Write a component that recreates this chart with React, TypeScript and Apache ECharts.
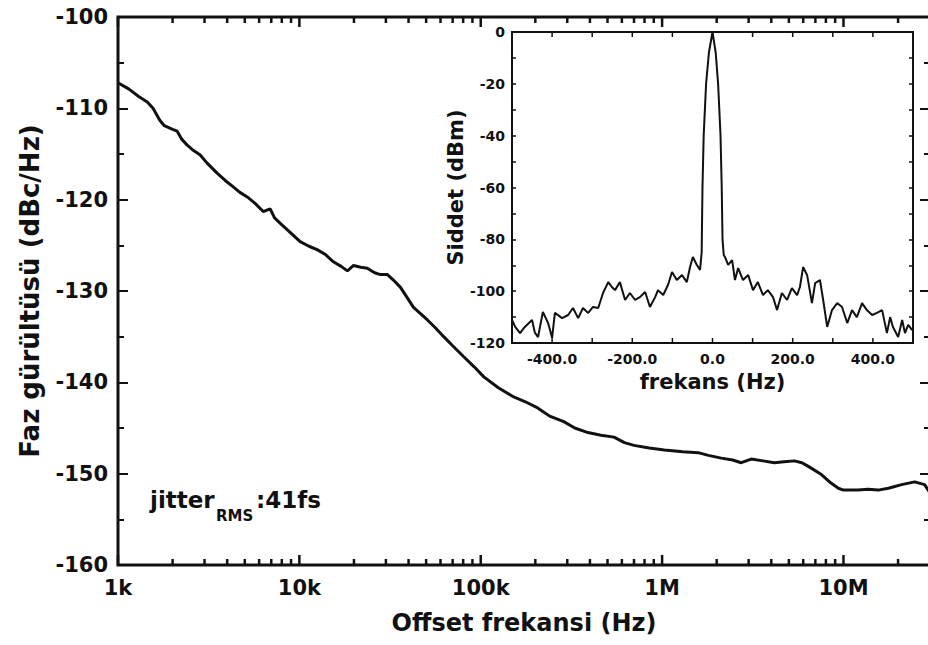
import React, { useEffect, useRef } from 'react';
import * as echarts from 'echarts';

// ---- main chart: phase noise vs offset frequency ----
const decadeValues = [1e3, 1e4, 1e5, 1e6, 1e7];
const decadeLabels = ['1k', '10k', '100k', '1M', '10M'];
const minorMultipliers = [2, 3, 4, 5, 6, 7, 8, 9];
const xMin = 1000;
const xMax = 3e7;

const mainFreq = [
  1000, 1150, 1300, 1450, 1560, 1700, 1800, 2000, 2120, 2250, 2400, 2600, 2840, 3100, 3520, 3900,
  4320, 4700, 5160, 5700, 6320, 6900, 7300, 7850, 8800, 10100, 11300, 12600, 13900, 15400, 17000,
  18400, 19900, 21800, 23700, 26000, 28000, 30600, 33000, 36100, 42600, 51000, 56000, 62500, 70000,
  80600, 92000, 104000, 125000, 152000, 175000, 206000, 240000, 287000, 330000, 390000, 460000,
  543000, 620000, 700000, 850000, 1030000, 1300000, 1580000, 1800000, 2120000, 2450000, 2730000,
  3100000, 3600000, 4160000, 4700000, 5360000, 5900000, 6400000, 7560000, 8500000, 9370000,
  10000000, 12000000, 13700000, 15500000, 17700000, 20900000, 24700000, 28000000, 30000000,
];
const mainLevel = [
  -107.2, -107.9, -108.7, -109.3, -110.0, -111.3, -111.9, -112.3, -112.5, -113.4, -114.0, -114.6,
  -115.1, -116.0, -117.1, -117.9, -118.6, -119.2, -119.7, -120.4, -121.3, -121.0, -122.0, -122.6,
  -123.5, -124.6, -125.1, -125.5, -126.0, -126.8, -127.3, -127.8, -127.2, -127.4, -127.5, -128.0,
  -128.2, -128.2, -128.8, -129.6, -131.8, -133.2, -134.0, -135.0, -136.0, -137.2, -138.3, -139.4,
  -140.6, -141.6, -142.1, -142.8, -143.7, -144.3, -145.0, -145.5, -145.8, -146.0, -146.6, -146.9,
  -147.2, -147.4, -147.6, -147.7, -148.0, -148.3, -148.5, -148.8, -148.4, -148.6, -148.8, -148.7,
  -148.6, -148.8, -149.2, -150.1, -151.0, -151.6, -151.8, -151.8, -151.7, -151.8, -151.6, -151.2,
  -150.9, -151.2, -152.1,
];

// ---- inset: spectrum around the carrier ----
const insetTickValues = [-400, -300, -200, -100, 0, 100, 200, 300, 400];
const insetFreq = [
  -500, -492, -480, -468, -450, -443, -435, -423, -410, -400, -393, -375, -360, -348, -335, -323,
  -310, -298, -285, -273, -260, -251, -243, -231, -218, -206, -193, -181, -168, -156, -143, -136,
  -123, -111, -101, -89, -76, -64, -56, -49, -39, -31, -27, -25, -22, -16, -9, 0, 8, 14, 20, 23, 25,
  28, 31, 39, 49, 56, 64, 76, 89, 101, 113, 126, 138, 151, 161, 173, 186, 198, 211, 218, 226, 236,
  248, 256, 268, 276, 286, 298, 311, 323, 336, 348, 360, 373, 385, 398, 410, 423, 435, 443, 450, 463,
  473, 480, 488, 498,
];
const insetLevel = [
  -111.1, -113.8, -116.2, -113.8, -111.1, -116.0, -117.7, -108.0, -112.3, -118.0, -108.4, -110.4,
  -109.2, -106.5, -110.4, -106.5, -108.4, -106.1, -106.5, -100.7, -96.5, -98.4, -99.6, -96.5,
  -103.4, -100.7, -103.4, -102.3, -100.3, -106.1, -102.3, -99.6, -101.5, -97.6, -92.6, -95.7,
  -93.8, -96.5, -90.7, -86.8, -89.9, -91.8, -85, -60, -40, -20, -8, 0, -8, -20, -40, -60, -80, -86,
  -86.8, -89.9, -88.0, -95.7, -91.1, -95.7, -93.8, -99.6, -96.5, -101.5, -99.6, -102.3, -107.3,
  -100.7, -103.4, -98.8, -101.5, -98.4, -90.7, -93.8, -104.6, -96.9, -95.7, -103.4, -113.8, -107.3,
  -104.6, -106.1, -112.3, -107.3, -110.0, -104.6, -107.3, -109.2, -108.4, -107.3, -116.2, -110.0,
  -113.8, -117.7, -111.1, -116.2, -113.0, -115.0,
];

const FONT = 'DejaVu Sans';
const INK = '#111';
const MAIN_Y_MIN = -160;
const MAIN_Y_MAX = -100;
const INSET_Y_MIN = -120;
const INSET_Y_MAX = 0;

export default function App() {
  const ref = useRef<HTMLDivElement>(null);

  useEffect(() => {
    const chart = echarts.init(ref.current!, null, { renderer: 'svg' });

    // tick positions on the logarithmic x axis: [value, y, isMajor]
    const xTicks: number[][] = [];
    decadeValues.forEach((d) => {
      xTicks.push([d, MAIN_Y_MIN, 1]);
      minorMultipliers.forEach((m) => {
        const v = d * m;
        if (v < xMax) xTicks.push([v, MAIN_Y_MIN, 0]);
      });
    });
    const insetTicks = insetTickValues.map((v) => [v, INSET_Y_MIN, 1]);

    const decadeFormatter = (v: number) => {
      const i = decadeValues.findIndex((d) => Math.abs(Math.log10(v) - Math.log10(d)) < 0.01);
      return i >= 0 ? decadeLabels[i] : '';
    };

    const tickRenderer = (yMin: number, yMax: number, majorLen: number, minorLen: number, w: number) =>
      (params: any, api: any) => {
        const v = api.value(0);
        const major = api.value(2) !== 0;
        const len = major ? majorLen : minorLen;
        const b = api.coord([v, yMin]);
        const t = api.coord([v, yMax]);
        return {
          type: 'group',
          children: [
            { type: 'rect', shape: { x: b[0] - w / 2, y: b[1] - len, width: w, height: len }, style: { fill: INK } },
            { type: 'rect', shape: { x: t[0] - w / 2, y: t[1], width: w, height: len }, style: { fill: INK } },
          ],
        };
      };

    const noLine = { show: false, onZero: false };

    const option: any = {
      animation: false,
      backgroundColor: '#fff',
      grid: [
        {
          left: 118, top: 17, width: 812, height: 548, outerBoundsMode: 'none',
          show: true, borderWidth: 3, borderColor: INK, backgroundColor: 'transparent',
        },
        {
          left: 512, top: 32, width: 401, height: 311, outerBoundsMode: 'none',
          show: true, borderWidth: 2, borderColor: INK, backgroundColor: 'transparent',
        },
      ],
      xAxis: [
        {
          type: 'log', logBase: 10, gridIndex: 0, min: xMin, max: xMax, position: 'bottom',
          axisLine: noLine,
          axisTick: { show: false },
          axisLabel: {
            formatter: decadeFormatter, margin: 12, fontSize: 21, fontWeight: 'bold',
            fontFamily: FONT, color: INK, showMaxLabel: false,
          },
          splitLine: { show: false },
          name: 'Offset frekansi (Hz)', nameLocation: 'middle', nameGap: 46,
          nameTextStyle: { fontSize: 24, fontWeight: 'bold', fontFamily: FONT, color: INK },
        },
        {
          type: 'value', gridIndex: 1, min: -500, max: 500, interval: 100, position: 'bottom',
          axisLine: noLine,
          axisTick: { show: false },
          axisLabel: {
            interval: 0, margin: 9, fontSize: 14, fontWeight: 'bold', fontFamily: FONT, color: INK,
            formatter: (v: number) => (v % 200 === 0 && Math.abs(v) < 500 ? v.toFixed(1) : ''),
          },
          splitLine: { show: false },
          name: 'frekans (Hz)', nameLocation: 'middle', nameGap: 28,
          nameTextStyle: { fontSize: 21, fontWeight: 'bold', fontFamily: FONT, color: INK },
        },
      ],
      yAxis: [
        {
          type: 'value', gridIndex: 0, min: MAIN_Y_MIN, max: MAIN_Y_MAX, interval: 10, position: 'left',
          axisLine: noLine,
          axisTick: { show: true, inside: true, length: 10, lineStyle: { color: INK, width: 2 } },
          minorTick: { show: true, splitNumber: 2, length: 6, lineStyle: { color: INK, width: 2 } },
          axisLabel: { margin: 10, fontSize: 21, fontWeight: 'bold', fontFamily: FONT, color: INK },
          splitLine: { show: false },
          name: 'Faz gürültüsü (dBc/Hz)', nameLocation: 'middle', nameGap: 75,
          nameTextStyle: { fontSize: 26, fontWeight: 'bold', fontFamily: FONT, color: INK },
        },
        {
          type: 'value', gridIndex: 0, min: MAIN_Y_MIN, max: MAIN_Y_MAX, interval: 10, position: 'right',
          axisLine: noLine,
          axisTick: { show: true, inside: true, length: 10, lineStyle: { color: INK, width: 2 } },
          minorTick: { show: true, splitNumber: 2, length: 6, lineStyle: { color: INK, width: 2 } },
          axisLabel: { show: false }, splitLine: { show: false },
        },
        {
          type: 'value', gridIndex: 1, min: INSET_Y_MIN, max: INSET_Y_MAX, interval: 20, position: 'left',
          axisLine: noLine,
          axisTick: { show: true, inside: true, length: 4, lineStyle: { color: INK, width: 1.5 } },
          minorTick: { show: true, splitNumber: 2, length: 4, lineStyle: { color: INK, width: 1.5 } },
          axisLabel: { margin: 7, fontSize: 14, fontWeight: 'bold', fontFamily: FONT, color: INK },
          splitLine: { show: false },
          name: 'Siddet (dBm)', nameLocation: 'middle', nameGap: 43,
          nameTextStyle: { fontSize: 21, fontWeight: 'bold', fontFamily: FONT, color: INK },
        },
        {
          type: 'value', gridIndex: 1, min: INSET_Y_MIN, max: INSET_Y_MAX, interval: 20, position: 'right',
          axisLine: noLine,
          axisTick: { show: true, inside: true, length: 4, lineStyle: { color: INK, width: 1.5 } },
          minorTick: { show: true, splitNumber: 2, length: 4, lineStyle: { color: INK, width: 1.5 } },
          axisLabel: { show: false }, splitLine: { show: false },
        },
      ],
      series: [
        {
          type: 'custom', xAxisIndex: 0, yAxisIndex: 0,
          data: xTicks,
          renderItem: tickRenderer(MAIN_Y_MIN, MAIN_Y_MAX, 10, 6, 2.5),
        },
        {
          type: 'custom', xAxisIndex: 1, yAxisIndex: 2,
          data: insetTicks,
          renderItem: tickRenderer(INSET_Y_MIN, INSET_Y_MAX, 5, 5, 1.5),
        },
        {
          type: 'line', xAxisIndex: 0, yAxisIndex: 0, symbol: 'none', smooth: false,
          lineStyle: { color: INK, width: 3 },
          data: mainFreq.map((f, i) => [f, mainLevel[i]]),
        },
        {
          type: 'line', xAxisIndex: 1, yAxisIndex: 2, symbol: 'none', smooth: false,
          lineStyle: { color: INK, width: 2 },
          data: insetFreq.map((f, i) => [f, insetLevel[i]]),
        },
      ],
      graphic: [
        {
          type: 'text', x: 150, y: 500,
          style: { text: 'jitter', fill: INK, font: `bold 23px "${FONT}"`, textVerticalAlign: 'middle' },
        },
        {
          type: 'text', x: 216, y: 516,
          style: { text: 'RMS', fill: INK, font: `bold 15px "${FONT}"`, textVerticalAlign: 'middle' },
        },
        {
          type: 'text', x: 256, y: 500,
          style: { text: ':41fs', fill: INK, font: `bold 23px "${FONT}"`, textVerticalAlign: 'middle' },
        },
      ],
    };

    chart.setOption(option);
    return () => chart.dispose();
  }, []);

  return (
    <div
      ref={ref}
      style={{ position: 'absolute', left: 0, top: 0, width: 928, height: 645, background: '#fff' }}
    />
  );
}
